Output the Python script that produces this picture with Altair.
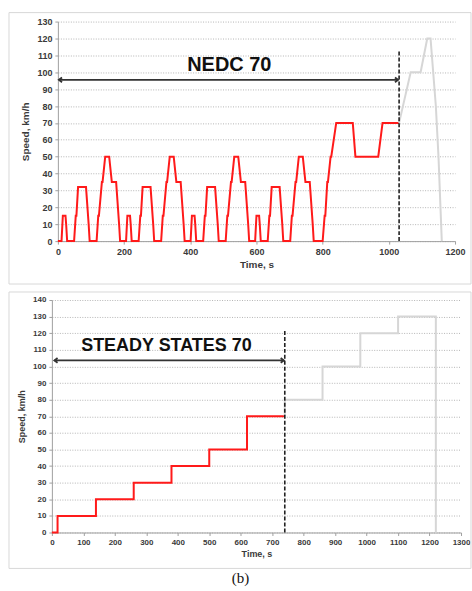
import altair as alt
import pandas as pd

# ---------------- data: NEDC 70 (top) ----------------
nedc_red_t = [
    0, 11, 15, 23, 25, 28, 49, 54, 56, 61, 85, 93, 96, 117, 122, 124, 133, 135, 143, 155, 163, 176, 185, 188, 195,
    206, 210, 218, 220, 223, 244, 249, 251, 256, 280, 288, 291, 312, 317, 319, 328, 330, 338, 350, 358, 371, 380, 383, 390,
    401, 405, 413, 415, 418, 439, 444, 446, 451, 475, 483, 486, 507, 512, 514, 523, 525, 533, 545, 553, 566, 575, 578, 585,
    596, 600, 608, 610, 613, 634, 639, 641, 646, 670, 678, 681, 702, 707, 709, 718, 720, 728, 740, 748, 761, 770, 773, 780,
    800, 806, 808, 814, 816, 824, 826, 841, 891, 899, 968, 981, 1031,
]
nedc_red_v = [
    0, 0, 15, 15, 10, 0, 0, 15, 15, 32, 32, 10, 0, 0, 15, 15, 35, 35, 50, 50, 35, 35, 10, 0, 0,
    0, 15, 15, 10, 0, 0, 15, 15, 32, 32, 10, 0, 0, 15, 15, 35, 35, 50, 50, 35, 35, 10, 0, 0,
    0, 15, 15, 10, 0, 0, 15, 15, 32, 32, 10, 0, 0, 15, 15, 35, 35, 50, 50, 35, 35, 10, 0, 0,
    0, 15, 15, 10, 0, 0, 15, 15, 32, 32, 10, 0, 0, 15, 15, 35, 35, 50, 50, 35, 35, 10, 0, 0,
    0, 15, 15, 35, 35, 50, 50, 70, 70, 50, 50, 70, 70,
]
nedc_grey_t = [1031, 1066, 1096, 1116, 1126, 1142, 1150, 1160]
nedc_grey_v = [70, 100, 100, 120, 120, 80, 50, 0]
nedc_cut = 1031
nedc_cut_top = 113
nedc_arrow_y = 95.5
nedc_arrow_x0 = 3
nedc_label = "NEDC 70"
nedc_label_x = 518
nedc_label_y = 104
nedc_x_ticks = [0, 200, 400, 600, 800, 1000, 1200]
nedc_y_ticks = [0, 10, 20, 30, 40, 50, 60, 70, 80, 90, 100, 110, 120, 130]

# ---------------- data: STEADY STATES 70 (bottom) ----------------
ss_red_t = [0, 18, 18, 140, 140, 260, 260, 380, 380, 500, 500, 620, 620, 740]
ss_red_v = [0, 0, 10, 10, 20, 20, 30, 30, 40, 40, 50, 50, 70, 70]
ss_grey_t = [740, 740, 860, 860, 980, 980, 1100, 1100, 1220, 1220]
ss_grey_v = [70, 80, 80, 100, 100, 120, 120, 130, 130, 0]
ss_cut = 740
ss_cut_top = 122
ss_arrow_y = 103.6
ss_arrow_x0 = 8
ss_label = "STEADY STATES 70"
ss_label_x = 364
ss_label_y = 112
ss_x_ticks = [0, 100, 200, 300, 400, 500, 600, 700, 800, 900, 1000, 1100, 1200, 1300]
ss_y_ticks = [0, 10, 20, 30, 40, 50, 60, 70, 80, 90, 100, 110, 120, 130, 140]

caption = "(b)"

FONT = "Liberation Sans"
RED = "#ff1a1a"
GREY = "#d6d6d6"
AXIS_GREY = "#a0a0a0"
TXT = "#3a3a3a"

LEFT_HEAD = "M1,-0.75L0,0L1,0.75"
RIGHT_HEAD = "M-1,-0.75L0,0L-1,0.75"


def line_df(ts, vs):
    return pd.DataFrame({"t": ts, "v": vs, "i": list(range(len(ts)))})


def panel(red_t, red_v, grey_t, grey_v, cut, cut_top, arrow_y, arrow_x0,
          label, label_x, label_y, xmax, ymax, xticks, yticks, W, H,
          lab_size, title_size, title_pad_y, box, extra=None):
    xs = alt.Scale(domain=[0, xmax], nice=False, zero=False)
    ys = alt.Scale(domain=[0, ymax], nice=False, zero=False)
    xax = alt.Axis(values=xticks, title="Time, s", grid=False, labelFont=FONT,
                   labelFontSize=lab_size, labelFontWeight="bold", labelColor=TXT,
                   titleFont=FONT, titleFontSize=title_size, titleFontWeight="bold",
                   titleColor=TXT, domainColor=AXIS_GREY, tickColor=AXIS_GREY,
                   tickSize=3, labelPadding=3, titlePadding=3, format="d",
                   labelFlush=False, labelOverlap=False)
    yax = alt.Axis(values=yticks, title="Speed, km/h", grid=True, gridDash=[1, 1.5],
                   gridColor="#b5b5b5", gridWidth=1, labelFont=FONT,
                   labelFontSize=lab_size, labelFontWeight="bold", labelColor=TXT,
                   titleFont=FONT, titleFontSize=title_size, titleFontWeight="bold",
                   titleColor=TXT, domainColor=AXIS_GREY, tickColor=AXIS_GREY,
                   tickSize=3, labelPadding=3, titlePadding=title_pad_y, format="d",
                   labelFlush=False, labelOverlap=False)

    def X(f):
        return alt.X(f, scale=xs, axis=xax)

    def Y(f):
        return alt.Y(f, scale=ys, axis=yax)

    red = alt.Chart(line_df(red_t, red_v)).mark_line(
        color=RED, strokeWidth=2, strokeJoin="miter").encode(
        x=X("t:Q"), y=Y("v:Q"), order="i:Q")
    grey = alt.Chart(line_df(grey_t, grey_v)).mark_line(
        color=GREY, strokeWidth=2).encode(x=X("t:Q"), y=Y("v:Q"), order="i:Q")
    dashed = alt.Chart(pd.DataFrame({"x": [cut], "y": [0], "y2": [cut_top]})).mark_rule(
        color="#222222", strokeWidth=1.6, strokeDash=[4, 2]).encode(
        x=X("x:Q"), y=Y("y:Q"), y2="y2:Q")
    arrow = alt.Chart(pd.DataFrame({"x": [arrow_x0], "x2": [cut - 3], "y": [arrow_y]})).mark_rule(
        color="#333333", strokeWidth=1.8).encode(
        x=X("x:Q"), x2="x2:Q", y=Y("y:Q"))
    lhead = alt.Chart(pd.DataFrame({"x": [arrow_x0], "y": [arrow_y]})).mark_point(
        shape=LEFT_HEAD, size=40, filled=False, color="#333333", strokeWidth=1.8, opacity=1).encode(
        x=X("x:Q"), y=Y("y:Q"))
    rhead = alt.Chart(pd.DataFrame({"x": [cut - 3], "y": [arrow_y]})).mark_point(
        shape=RIGHT_HEAD, size=40, filled=False, color="#333333", strokeWidth=1.8, opacity=1).encode(
        x=X("x:Q"), y=Y("y:Q"))
    text = alt.Chart(pd.DataFrame({"x": [label_x], "y": [label_y], "s": [label]})).mark_text(
        font=FONT, fontWeight="bold", fontSize=box[4], color="#111111",
        align="center", baseline="middle").encode(
        x=X("x:Q"), y=Y("y:Q"), text="s:N")
    frame = alt.Chart(pd.DataFrame({"k": [0]})).mark_rect(
        fill="transparent", stroke="#d8d8d8", strokeWidth=1).encode(
        x=alt.value(box[0]), x2=alt.value(box[1]), y=alt.value(box[2]), y2=alt.value(box[3]))
    layers = [red, grey, dashed, arrow, lhead, rhead, text, frame]
    if extra is not None:
        layers.append(extra)
    return alt.layer(*layers).properties(width=W, height=H)


def spacer():
    return alt.Chart(pd.DataFrame({"k": [0]})).mark_rule(opacity=0, strokeWidth=0).encode(
        x=alt.value(0), y=alt.value(0), y2=alt.value(0)).properties(width=1, height=1)


top = panel(nedc_red_t, nedc_red_v, nedc_grey_t, nedc_grey_v, nedc_cut, nedc_cut_top,
            nedc_arrow_y, nedc_arrow_x0, nedc_label, nedc_label_x, nedc_label_y,
            1200, 130, nedc_x_ticks, nedc_y_ticks, 398, 220, 9, 10, 6,
            (-49, 414, -9, 263, 20))

cap = alt.Chart(pd.DataFrame({"s": [caption]})).mark_text(
    font="Liberation Serif", fontSize=15, color="#111111", align="center",
    baseline="middle").encode(x=alt.value(189), y=alt.value(279), text="s:N")

bottom = panel(ss_red_t, ss_red_v, ss_grey_t, ss_grey_v, ss_cut, ss_cut_top,
               ss_arrow_y, ss_arrow_x0, ss_label, ss_label_x, ss_label_y,
               1300, 140, ss_x_ticks, ss_y_ticks, 410, 233, 8, 9, 6,
               (-43, 420, -8, 269, 18), extra=cap)

chart = alt.concat(spacer(), top, spacer(), bottom, columns=2, align="none",
                   spacing={"row": 6, "column": 0}).properties(
    padding={"left": 7, "top": 11, "right": 0, "bottom": 0},
    background="white",
).configure_view(stroke=None)

chart.save("out.html", embed_options={"renderer": "svg", "actions": False})
